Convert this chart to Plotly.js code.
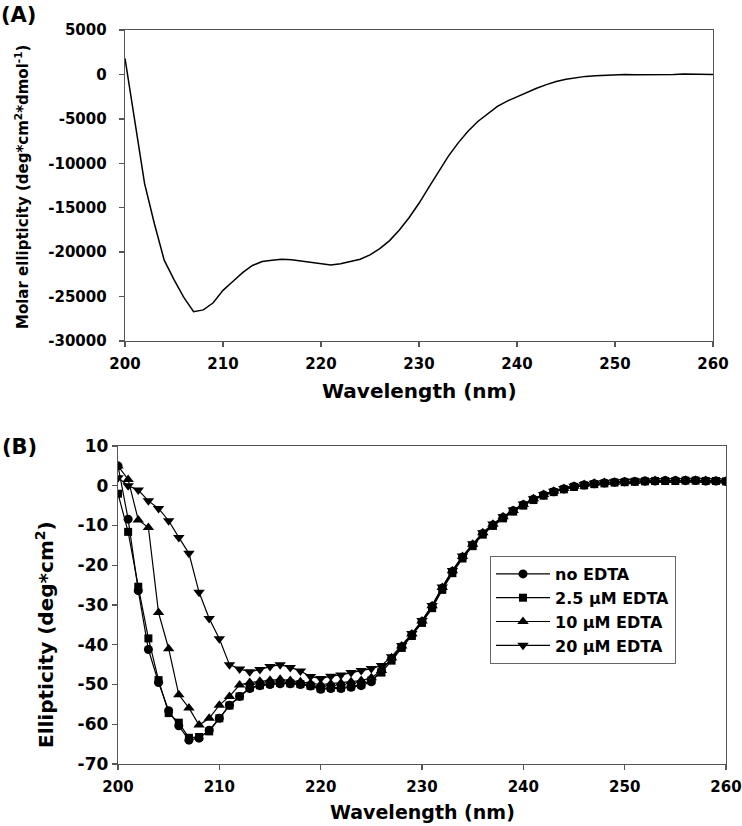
<!DOCTYPE html>
<html>
<head>
<meta charset="utf-8">
<script src="https://cdn.plot.ly/plotly-3.0.1.min.js"></script>
<style>
html,body{margin:0;padding:0;background:#fff;}
#chart{width:742px;height:826px;}
</style>
</head>
<body>
<div id="chart"></div>
<script>
// Panel A: molar ellipticity
const wavelengthA = [200,201,202,203,204,205,206,207,208,209,210,211,212,213,214,215,216,217,218,219,220,221,222,223,224,225,226,227,228,229,230,231,232,233,234,235,236,237,238,239,240,241,242,243,244,245,246,247,248,249,250,251,252,253,254,255,256,257,258,259,260];
const molarEllipticity = [1800,-5200,-12300,-16800,-20900,-23100,-25100,-26700,-26500,-25700,-24300,-23300,-22300,-21500,-21050,-20900,-20800,-20850,-21000,-21200,-21350,-21450,-21300,-21050,-20800,-20300,-19600,-18700,-17500,-16100,-14500,-12700,-10900,-9200,-7700,-6400,-5300,-4400,-3600,-3000,-2500,-2000,-1550,-1150,-800,-550,-350,-220,-150,-100,-50,0,-50,-50,-30,-30,0,50,50,50,0];

// Panel B: ellipticity with EDTA
const wavelengthB = [200,201,202,203,204,205,206,207,208,209,210,211,212,213,214,215,216,217,218,219,220,221,222,223,224,225,226,227,228,229,230,231,232,233,234,235,236,237,238,239,240,241,242,243,244,245,246,247,248,249,250,251,252,253,254,255,256,257,258,259,260];
const noEDTA = [5,-8.4,-26.4,-41.2,-49.5,-56.6,-60.4,-64,-63.5,-61.5,-58.5,-55.2,-53,-51,-50.3,-50,-49.8,-49.8,-50,-50.4,-51.2,-51,-51,-50.7,-50.3,-49.3,
  -46.5,-43.5,-40.5,-37.5,-34.2,-30.4,-25.8,-21.6,-18,-14.9,-12,-9.9,-8,-6.3,-4.8,-3.4,-2.3,-1.5,-0.8,-0.2,0.2,0.5,0.7,0.9,1.0,1.1,1.2,1.2,1.3,1.3,1.3,1.3,1.2,1.2,1.1];
const edta2_5 = [-2,-11.6,-25.4,-38.4,-48.9,-57.2,-59.6,-63.4,-63.2,-61.8,-58.5,-55.3,-53,-50.8,-50.2,-49.8,-49.6,-49.7,-49.9,-50.3,-51,-50.8,-50.8,-50.5,-50,-49,
  -47,-44,-40.8,-37.8,-34.5,-30.8,-26.2,-22,-18.3,-15.2,-12.3,-10.1,-8.2,-6.5,-5,-3.6,-2.5,-1.6,-0.9,-0.3,0.1,0.4,0.6,0.8,0.9,1.0,1.1,1.2,1.2,1.2,1.3,1.3,1.2,1.2,1.1];
const edta10 = [5,1.6,-8.6,-10.5,-31.9,-41,-52.6,-55.9,-60.2,-58.5,-55.2,-53,-50.1,-49.5,-49.2,-48.9,-48.7,-49,-49.3,-49.7,-50,-49.8,-49.6,-49.3,-49,-48.3,
  -46.5,-43.3,-40.3,-37.3,-34,-30.2,-25.6,-21.4,-17.8,-14.7,-11.8,-9.7,-7.8,-6.2,-4.7,-3.3,-2.2,-1.4,-0.7,-0.1,0.3,0.6,0.8,0.9,1.0,1.1,1.2,1.3,1.3,1.3,1.4,1.4,1.3,1.2,1.2];
const edta20 = [2,0,-1.1,-3.8,-5.7,-8.8,-13,-17,-26.8,-33.4,-38.5,-45,-46.1,-46.8,-46.2,-45.5,-45,-45.7,-46.6,-48,-48.5,-47.9,-47.6,-47,-46.5,-46,
  -45.2,-43,-40.2,-37.2,-33.9,-30.1,-25.5,-21.3,-17.7,-14.6,-11.8,-9.6,-7.8,-6.1,-4.6,-3.3,-2.2,-1.4,-0.7,-0.1,0.3,0.6,0.8,1.0,1.1,1.2,1.2,1.3,1.3,1.3,1.3,1.4,1.3,1.3,1.2];

const seriesNames = ['no EDTA','2.5 \u03bcM EDTA','10 \u03bcM EDTA','20 \u03bcM EDTA'];
const tickValsA = [-30000,-25000,-20000,-15000,-10000,-5000,0,5000];
const tickTextA = ['-30000','-25000','-20000','-15000','-10000','-5000','0','5000'];
const tickValsB = [-70,-60,-50,-40,-30,-20,-10,0,10];
const tickTextB = ['-70','-60','-50','-40','-30','-20','-10','0','10'];
const tickValsX = [200,210,220,230,240,250,260];
const tickTextX = ['200','210','220','230','240','250','260'];

const W = 742, H = 826;
const px = v => v / W;
const py = v => 1 - v / H;

const FONT = 'DejaVu Sans';
const black = '#000000';
const axisCol = '#555555';

const markerSymbols = ['circle','square','triangle-up','triangle-down'];
const markerSizes = [9,8,10,10];
const seriesB = [noEDTA, edta2_5, edta10, edta20];

const traces = [{
  x: wavelengthA, y: molarEllipticity, type: 'scatter', mode: 'lines',
  line: {color: black, width: 1.5}, xaxis: 'x', yaxis: 'y', showlegend: false, hoverinfo: 'skip'
}];
seriesB.forEach((s, i) => {
  traces.push({
    x: wavelengthB, y: s, type: 'scatter', mode: 'lines+markers', name: seriesNames[i],
    line: {color: black, width: 1.2},
    marker: {symbol: markerSymbols[i], size: markerSizes[i], color: black},
    xaxis: 'x2', yaxis: 'y2'
  });
});

const axisCommon = {
  showline: true, linecolor: axisCol, linewidth: 1.3, mirror: true,
  ticks: 'outside', ticklen: 5, tickcolor: axisCol, tickwidth: 1.3,
  showgrid: false, zeroline: false, tickmode: 'array',
  tickfont: {family: FONT, size: 15, color: black, weight: 'bold'}
};

function ann(text, x, y, size, angle) {
  return {text: text, x: px(x), y: py(y), xref: 'paper', yref: 'paper', showarrow: false,
    xanchor: 'center', yanchor: 'middle', textangle: angle || 0,
    font: {family: FONT, size: size, color: black, weight: 'bold'}};
}

const layout = {
  width: W, height: H,
  margin: {l: 0, r: 0, t: 0, b: 0},
  paper_bgcolor: '#fff', plot_bgcolor: '#fff',
  font: {family: FONT, color: black, weight: 'bold'},
  showlegend: true,
  xaxis: Object.assign({}, axisCommon, {
    domain: [px(125), px(713)], range: [200, 260], tickvals: tickValsX, ticktext: tickTextX,
    anchor: 'y', ticklabelstandoff: 4
  }),
  yaxis: Object.assign({}, axisCommon, {
    domain: [py(341), py(30)], range: [-30000, 5000], tickvals: tickValsA, ticktext: tickTextA,
    anchor: 'x', ticklabelstandoff: 9
  }),
  xaxis2: Object.assign({}, axisCommon, {
    domain: [px(118), px(726)], range: [200, 260], tickvals: tickValsX, ticktext: tickTextX,
    anchor: 'y2', ticklabelstandoff: 4
  }),
  yaxis2: Object.assign({}, axisCommon, {
    domain: [py(764), py(446)], range: [-70, 10], tickvals: tickValsB, ticktext: tickTextB,
    anchor: 'x2', ticklabelstandoff: 0,
    tickfont: {family: FONT, size: 17, color: black, weight: 'bold'}
  }),
  legend: {
    x: px(490), y: py(556), xanchor: 'left', yanchor: 'top',
    bordercolor: '#666', borderwidth: 1, bgcolor: '#fff',
    font: {family: FONT, size: 16, color: black, weight: 'bold'},
    itemwidth: 54, tracegroupgap: 0
  },
  annotations: [
    ann('(A)', 18, 15, 21),
    ann('(B)', 19, 447, 21),
    ann('Wavelength (nm)', 419, 391, 20),
    ann('Wavelength (nm)', 422, 812, 19),
    ann('Molar ellipticity (deg*cm<sup>2</sup>*dmol<sup>-1</sup>)', 22, 187, 15, -90),
    ann('Ellipticity (deg*cm<sup>2</sup>)', 45, 635, 20, -90)
  ]
};

Plotly.newPlot('chart', traces, layout, {displayModeBar: false, staticPlot: true});
</script>
</body>
</html>
